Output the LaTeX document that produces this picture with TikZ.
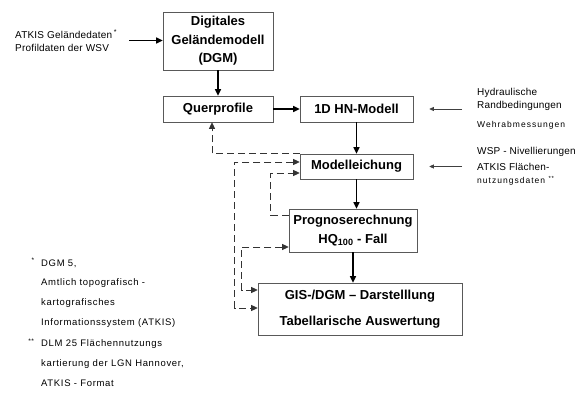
\documentclass[tikz,border=0pt]{standalone}
\usepackage{fontspec}
\setmainfont{Liberation Sans}
\newfontfamily\srcfont[LetterSpace=2]{Liberation Sans}
\newfontfamily\notefont[LetterSpace=7]{Liberation Sans}
\newfontfamily\tinyfont[LetterSpace=12]{Liberation Sans}
\usetikzlibrary{arrows.meta,positioning}

\begin{document}
\begin{tikzpicture}[
  x=1pt, y=-1pt,
  font=\srcfont\fontsize{10}{13}\selectfont,
  >={Triangle[length=6.5pt,width=6pt]},
  box/.style={draw=black!65, line width=0.6pt, align=center, inner sep=0pt, minimum width=#1, font=\fontsize{13}{18.5}\selectfont\bfseries},
  box/.default=110pt,
  src/.style={align=left, anchor=west, inner sep=0pt},
  arr/.style={->, line width=1.2pt},
  feed/.style={-{Triangle[length=4.5pt,width=4pt]}, line width=0.7pt, black!75},
  fback/.style={line width=0.8pt, black!80, dash pattern=on 7pt off 4pt, >={Triangle[length=6.5pt,width=6pt]}},
  ]
\useasboundingbox (0,0) rectangle (587,396);
% model chain
\node[box, minimum height=58pt]            (dgm)  at (218,41)    {Digitales\\Geländemodell\\(DGM)};
\node[box, minimum height=26pt]            (quer) at (218,109)   {Querprofile};
\node[box=113pt, minimum height=26pt]      (hn)   at (356.5,109) {1D HN-Modell};
\node[box=113pt, minimum height=25pt]      (mod)  at (356.5,166.5) {Modelleichung};
\node[box=128pt, minimum height=43pt]      (prog) at (353,230.5) {Prognoserechnung\\HQ\textsubscript{100} - Fall};
\node[box=204pt, minimum height=52pt, font=\fontsize{13}{26}\selectfont\bfseries] (gis) at (360,309) {GIS-/DGM – Darstelllung\\Tabellarische Auswertung};
% input data
\node[src] (geo) at (15,40.5) {ATKIS Geländedaten\,\textsuperscript{*}\\Profildaten der WSV};
\node[src] (hyd) at (477,109) {Hydraulische\\Randbedingungen\\[6pt]{\tinyfont\fontsize{8.5}{10}\selectfont Wehrabmessungen}};
\node[src] (wsp) at (477,166.5) {WSP - Nivellierungen\\[3pt]ATKIS Flächen-\\{\tinyfont\fontsize{8.5}{10}\selectfont nutzungsdaten \textsuperscript{**}}};
% footnotes
\node[src, font=\notefont\fontsize{9.5}{19.7}\selectfont] (notes) at (41,322) {\llap{\textsuperscript{*}\ \ }DGM 5,\\Amtlich topografisch -\\kartografisches\\Informationssystem (ATKIS)\\[2pt]\llap{\textsuperscript{**}\ \ }DLM 25 Flächennutzungs\\kartierung der LGN Hannover,\\ATKIS - Format};
% arrows
\draw[arr] ([xshift=12pt]geo.east) -- (geo.east -| dgm.west);
\draw[arr] (dgm) -- (quer);
\draw[arr] (quer) -- (hn);
\draw[arr] (hn) -- (mod);
\draw[arr] (mod.south) -- (mod.south |- prog.north);
\draw[arr] (prog.south) -- (prog.south |- gis.north);
\draw[feed] ([xshift=-15pt]hyd.west) -- ([xshift=16pt]hn.east);
\draw[feed] ([xshift=-15pt]wsp.west) -- ([xshift=16pt]mod.east);
% feedback loops
\draw[fback, ->] (mod.north west) -| ([xshift=-6pt]quer.south);
\draw[fback, <->] ([yshift=4.5pt]mod.west) -- ++(-65,0) |- ([yshift=1pt]gis.west);
\draw[fback, ->] ([yshift=15.5pt]prog.west) -- ++(-18,0) |- ([yshift=-6.5pt]mod.west);
\draw[fback, <->] ([yshift=-16.5pt]prog.west) -- ++(-47,0) |- ([yshift=19pt]gis.west);
\end{tikzpicture}
\end{document}
